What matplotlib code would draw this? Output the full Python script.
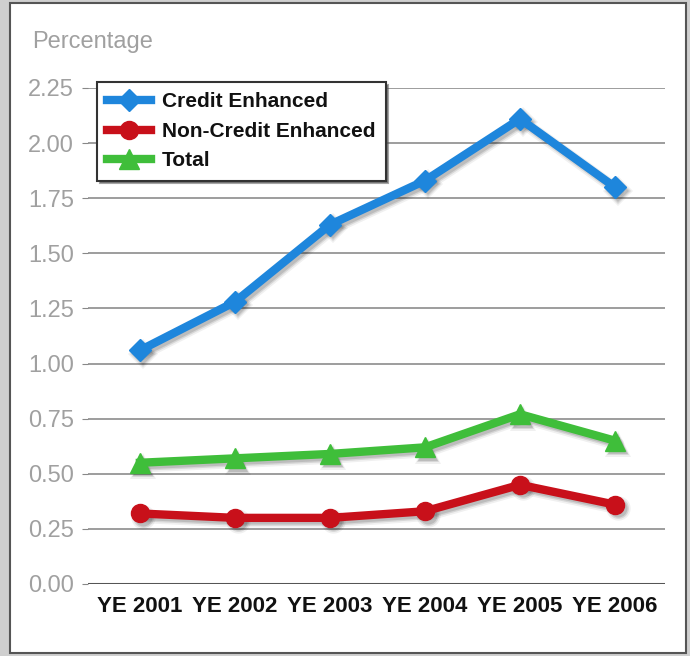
import matplotlib
matplotlib.use('Agg')
import matplotlib.pyplot as plt
import matplotlib.transforms as mtrans
from matplotlib.patches import Rectangle
import numpy as np

years = ['YE 2001', 'YE 2002', 'YE 2003', 'YE 2004', 'YE 2005', 'YE 2006']
credit_enhanced = [1.06, 1.28, 1.63, 1.83, 2.11, 1.80]
non_credit_enhanced = [0.32, 0.30, 0.30, 0.33, 0.45, 0.36]
total = [0.55, 0.57, 0.59, 0.62, 0.77, 0.65]
y_ticks = [0.00, 0.25, 0.50, 0.75, 1.00, 1.25, 1.50, 1.75, 2.00, 2.25]

narrow = ['Liberation Sans Narrow', 'DejaVu Sans Condensed', 'Liberation Sans', 'DejaVu Sans']
plain = ['Liberation Sans', 'DejaVu Sans']

fig = plt.figure(figsize=(6.9, 6.56), dpi=100)
fig.patch.set_facecolor('#cfcfcf')

# white panel with dark border
panel = Rectangle((10 / 690, 3 / 656), 676 / 690, 650 / 656, transform=fig.transFigure,
                  facecolor='white', edgecolor='#555555', linewidth=1.5, zorder=-5)
fig.patches.append(panel)

ax = fig.add_axes([88 / 690, (656 - 584) / 656, (665 - 88) / 690, (584 - 88) / 656])
ax.set_zorder(2)
ax.set_facecolor('none')

x = np.arange(len(years))
shadow_tr = ax.transData + mtrans.ScaledTranslation(3 / 100, -3.5 / 100, fig.dpi_scale_trans)

series = [
    ('Credit Enhanced', credit_enhanced, '#1e86dc', 'D', 11),
    ('Non-Credit Enhanced', non_credit_enhanced, '#c8101a', 'o', 13),
    ('Total', total, '#3fbe3a', '^', 14),
]
for name, vals, col, mk, ms in series:
    # soft drop shadow
    for lw, a in [(9, 0.06), (6.5, 0.10), (4.5, 0.12)]:
        ax.plot(x, vals, color='black', alpha=a, linewidth=lw, marker=mk,
                markersize=ms + lw - 4.5, markeredgewidth=0, transform=shadow_tr,
                clip_on=False, zorder=2, solid_capstyle='round', solid_joinstyle='round')
    ax.plot(x, vals, color=col, linewidth=6, marker=mk, markersize=ms,
            markeredgecolor=col, label=name, clip_on=False, zorder=3)

ax.set_xlim(-0.547, 5.526)
ax.set_ylim(0, 2.25)
ax.set_yticks(y_ticks)
ax.set_yticklabels(['%.2f' % v for v in y_ticks], family=narrow, fontsize=17, color='#a0a0a0')
ax.set_xticks(x)
ax.set_xticklabels(years, family=narrow, fontsize=16, fontweight='bold', color='#111111')
ax.tick_params(axis='y', length=4, color='#888888', pad=6)
ax.tick_params(axis='x', length=0, pad=9)

for v in y_ticks[1:]:
    ax.axhline(v, color='#8c8c8c', linewidth=1.2, zorder=1)
ax.axhline(0, color='#555555', linewidth=2.2, zorder=1)
for s in ax.spines.values():
    s.set_visible(False)

fig.text(32 / 690, 1 - 42 / 656, 'Percentage', family=narrow, fontsize=17,
         color='#a0a0a0', va='center', ha='left')

leg = ax.legend(loc='upper left', bbox_to_anchor=((97 - 88) / 577, (584 - 82) / 496),
                prop={'family': plain, 'weight': 'bold', 'size': 15},
                frameon=True, fancybox=False, shadow=True, handlelength=2.1,
                handletextpad=0.5, labelspacing=0.5, borderpad=0.5, borderaxespad=0)
leg.get_frame().set_edgecolor('#333333')
leg.get_frame().set_linewidth(1.5)
for t in leg.get_texts():
    t.set_color('#111111')

fig.savefig('out.png', dpi=100, facecolor=fig.get_facecolor())
